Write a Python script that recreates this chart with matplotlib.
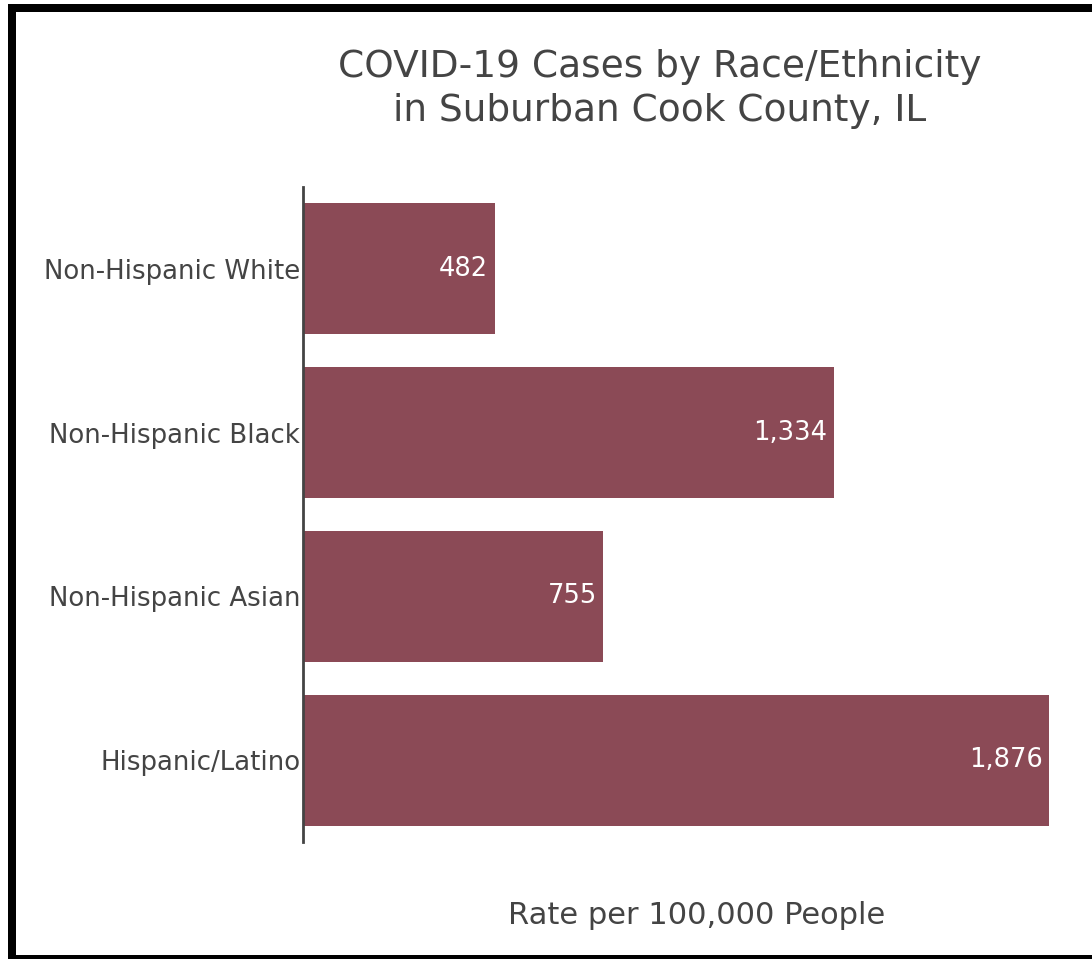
import matplotlib.pyplot as plt
from matplotlib.patches import Rectangle

# Data
groups = ["Non-Hispanic White", "Non-Hispanic Black", "Non-Hispanic Asian", "Hispanic/Latino"]
rates = [482, 1334, 755, 1876]
bar_labels = ["482", "1,334", "755", "1,876"]

BAR_COLOR = "#8b4a56"
TEXT_COLOR = "#444444"
W, H = 1092, 959

fig = plt.figure(figsize=(W / 100, H / 100), dpi=100)
ax = fig.add_axes([303 / W, 1 - 842 / H, (1050 - 303) / W, (842 - 187) / H])

ypos = list(range(len(groups)))
ax.barh(ypos, rates, height=0.8, color=BAR_COLOR)
ax.set_xlim(0, 1878)
ax.set_ylim(len(groups) - 0.5, -0.5)

for y, v, lab in zip(ypos, rates, bar_labels):
    ax.text(v - 16, y, lab, color="white", fontsize=18.5, ha="right", va="center")

ax.set_yticks(ypos)
ax.set_yticklabels(groups, fontsize=18.7, color=TEXT_COLOR)
ax.tick_params(axis="y", length=0, pad=2)
ax.set_xticks([])
for side in ["top", "right", "bottom"]:
    ax.spines[side].set_visible(False)
ax.spines["left"].set_color(TEXT_COLOR)
ax.spines["left"].set_linewidth(2)

fig.text(660 / W, 1 - 89 / H, "COVID-19 Cases by Race/Ethnicity\nin Suburban Cook County, IL",
         ha="center", va="center", fontsize=27, color=TEXT_COLOR, linespacing=1.32)
fig.text(697 / W, 1 - 916 / H, "Rate per 100,000 People",
         ha="center", va="center", fontsize=22, color=TEXT_COLOR)

# black frame: top, left and bottom edges (pixel boxes x0, y0_top, x1, y1_top)
for x0, y0, x1, y1 in [(8, 4, W, 12), (8, 4, 16, H), (8, 955, W, H)]:
    fig.patches.append(Rectangle((x0 / W, 1 - y1 / H), (x1 - x0) / W, (y1 - y0) / H,
                                 transform=fig.transFigure, color="black", lw=0))

fig.savefig("out.png", dpi=100)
